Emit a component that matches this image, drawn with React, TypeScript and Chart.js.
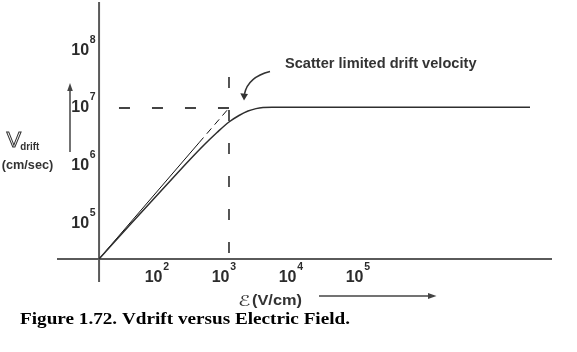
import React, { useEffect, useRef } from "react";
import { Chart, registerables } from "chart.js";

Chart.register(...registerables);

// Drift velocity curve (E in V/cm, v in cm/s)
const fieldVcm = [11.5, 33.3, 114.7, 261.8, 438.3, 662.2, 1000, 1410, 1921, 2530, 3218, 4384, 3.108e7];
const driftCmS = [2.5e4, 9.69e4, 4.61e5, 1.295e6, 2.395e6, 3.78e6, 5.735e6, 7.42e6, 8.88e6, 9.76e6, 1.02e7, 1.032e7, 1.032e7];
// Low-field (ohmic) asymptote
const ohmicField = [11.5, 356, 1000];
const ohmicDrift = [2.5e4, 2.51e6, 1e7];
// Tick exponents (labels 10^n)
const xTickExps = [2, 3, 4, 5];
const yTickExps = [5, 6, 7, 8];
// Guide lines
const saturationField = 1000;
const saturationDrift = 1e7;
const guideFieldStart = 22.8;
const guideDriftRange = [3.16e4, 3.42e7];
// Axis line extents
const axisFieldRange = [2.71, 6.62e7];
const axisDriftRange = [1e4, 6.72e8];
// Scale limits
const xLimits = [0.3821, 1.5635e8];
const yLimits = [621.0, 7.279e8];

const SANS = "'Liberation Sans', Arial, sans-serif";

function fitText(ctx: CanvasRenderingContext2D, text: string, x: number, baseline: number, width: number) {
  const w = ctx.measureText(text).width;
  ctx.save();
  ctx.translate(x, baseline);
  ctx.scale(width / w, 1);
  ctx.textAlign = "left";
  ctx.fillText(text, 0, 0);
  ctx.restore();
}

function drawPow(ctx: CanvasRenderingContext2D, exp: number, rightX: number, baseline: number) {
  ctx.save();
  ctx.fillStyle = "#2b2b2b";
  ctx.textBaseline = "alphabetic";
  ctx.font = `bold 16px ${SANS}`;
  ctx.textAlign = "right";
  ctx.fillText("10", rightX, baseline);
  ctx.font = `bold 10.5px ${SANS}`;
  ctx.textAlign = "left";
  ctx.fillText(String(exp), rightX + 0.8, baseline - 12);
  ctx.restore();
}

function arrowHead(ctx: CanvasRenderingContext2D, tip: [number, number], b1: [number, number], b2: [number, number]) {
  ctx.beginPath();
  ctx.moveTo(tip[0], tip[1]);
  ctx.lineTo(b1[0], b1[1]);
  ctx.lineTo(b2[0], b2[1]);
  ctx.closePath();
  ctx.fill();
}

const decor = {
  id: "decor",
  beforeDatasetsDraw(chart: any) {
    const { ctx, scales } = chart;
    const x = scales.x;
    const y = scales.y;
    const ox = x.getPixelForValue(fieldVcm[0]);
    const oy = y.getPixelForValue(driftCmS[0]);
    ctx.save();
    ctx.strokeStyle = "#5a5a5a";
    ctx.lineWidth = 2;
    ctx.beginPath();
    ctx.moveTo(ox, y.getPixelForValue(axisDriftRange[1]));
    ctx.lineTo(ox, y.getPixelForValue(axisDriftRange[0]));
    ctx.moveTo(x.getPixelForValue(axisFieldRange[0]), oy);
    ctx.lineTo(x.getPixelForValue(axisFieldRange[1]), oy);
    ctx.stroke();

    const sx = x.getPixelForValue(saturationField);
    const sy = y.getPixelForValue(saturationDrift);
    ctx.strokeStyle = "#444";
    ctx.lineWidth = 1.8;
    ctx.setLineDash([11, 22]);
    ctx.beginPath();
    ctx.moveTo(x.getPixelForValue(guideFieldStart), sy);
    ctx.lineTo(sx, sy);
    ctx.stroke();
    ctx.beginPath();
    ctx.moveTo(sx, y.getPixelForValue(guideDriftRange[1]));
    ctx.lineTo(sx, y.getPixelForValue(guideDriftRange[0]));
    ctx.stroke();
    ctx.restore();
  },
  afterDatasetsDraw(chart: any) {
    const { ctx, scales } = chart;
    const x = scales.x;
    const y = scales.y;
    const ox = x.getPixelForValue(fieldVcm[0]);
    const oy = y.getPixelForValue(driftCmS[0]);
    ctx.save();
    // tick labels
    xTickExps.forEach((e) => drawPow(ctx, e, x.getPixelForValue(Math.pow(10, e)) + 0.5, oy + 23.5));
    yTickExps.forEach((e) => drawPow(ctx, e, ox - 10, y.getPixelForValue(Math.pow(10, e)) + 4.5));

    // Y axis title
    ctx.fillStyle = "#333";
    ctx.strokeStyle = "#333";
    ctx.textBaseline = "alphabetic";
    ctx.textAlign = "left";
    ctx.font = `22px ${SANS}`;
    ctx.lineWidth = 1;
    ctx.strokeText("V", 6.5, 146.5);
    ctx.font = `bold 10px ${SANS}`;
    fitText(ctx, "drift", 20.3, 149.5, 19);
    ctx.font = `bold 13px ${SANS}`;
    fitText(ctx, "(cm/sec)", 1.7, 169, 51.6);

    // Y arrow
    ctx.strokeStyle = "#444";
    ctx.fillStyle = "#444";
    ctx.lineWidth = 1.5;
    ctx.beginPath();
    ctx.moveTo(70, 152);
    ctx.lineTo(70, 89);
    ctx.stroke();
    arrowHead(ctx, [70, 83], [67.2, 91], [72.8, 91]);

    // X axis title
    ctx.fillStyle = "#333";
    ctx.font = `15px 'DejaVu Sans', sans-serif`;
    fitText(ctx, "ℰ", 238, 306, 12.5);
    ctx.font = `bold 15.5px ${SANS}`;
    fitText(ctx, "(V/cm)", 252, 305, 50);

    // X arrow
    ctx.strokeStyle = "#444";
    ctx.fillStyle = "#444";
    ctx.beginPath();
    ctx.moveTo(319, 296);
    ctx.lineTo(430, 296);
    ctx.stroke();
    arrowHead(ctx, [436.5, 296], [428, 293], [428, 299]);

    // Annotation
    ctx.fillStyle = "#333";
    ctx.font = `bold 14.5px ${SANS}`;
    fitText(ctx, "Scatter limited drift velocity", 285, 68, 191.5);
    ctx.strokeStyle = "#333";
    ctx.fillStyle = "#333";
    ctx.lineWidth = 1.5;
    ctx.beginPath();
    ctx.moveTo(270, 71.5);
    ctx.quadraticCurveTo(248, 77, 244.5, 94);
    ctx.stroke();
    arrowHead(ctx, [244, 100.5], [240.3, 93.3], [248, 94]);

    // Caption
    ctx.fillStyle = "#000";
    ctx.font = `bold 17px 'Liberation Serif', 'Times New Roman', serif`;
    fitText(ctx, "Figure 1.72. Vdrift versus Electric Field.", 20, 324, 330);
    ctx.restore();
  },
};

export default function App() {
  const ref = useRef<HTMLCanvasElement | null>(null);
  useEffect(() => {
    if (!ref.current) return;
    const chart = new Chart(ref.current, {
      type: "line",
      data: {
        datasets: [
          {
            data: fieldVcm.map((e, i) => ({ x: e, y: driftCmS[i] })),
            borderColor: "#2e2e2e",
            borderWidth: 1.5,
            pointRadius: 0,
            cubicInterpolationMode: "monotone",
            fill: false,
          },
          {
            data: ohmicField.map((e, i) => ({ x: e, y: ohmicDrift[i] })),
            borderColor: "#111",
            borderWidth: 1,
            pointRadius: 0,
            tension: 0,
            fill: false,
            segment: {
              borderDash: (c: any) => (c.p0DataIndex >= 1 ? [7, 5] : []),
            },
          },
        ],
      },
      options: {
        animation: false,
        responsive: false,
        devicePixelRatio: 1,
        layout: { padding: 0 },
        plugins: { legend: { display: false }, tooltip: { enabled: false }, title: { display: false } },
        events: [],
        scales: {
          x: { type: "logarithmic", display: false, min: xLimits[0], max: xLimits[1], bounds: "data" },
          y: { type: "logarithmic", display: false, min: yLimits[0], max: yLimits[1], bounds: "data" },
        },
      } as any,
      plugins: [decor],
    });
    return () => chart.destroy();
  }, []);
  return (
    <>
      <style>{"html,body{margin:0;padding:0;background:#fff;overflow:hidden}"}</style>
      <canvas ref={ref} width={577} height={352} style={{ display: "block", width: 577, height: 352 }} />
    </>
  );
}
